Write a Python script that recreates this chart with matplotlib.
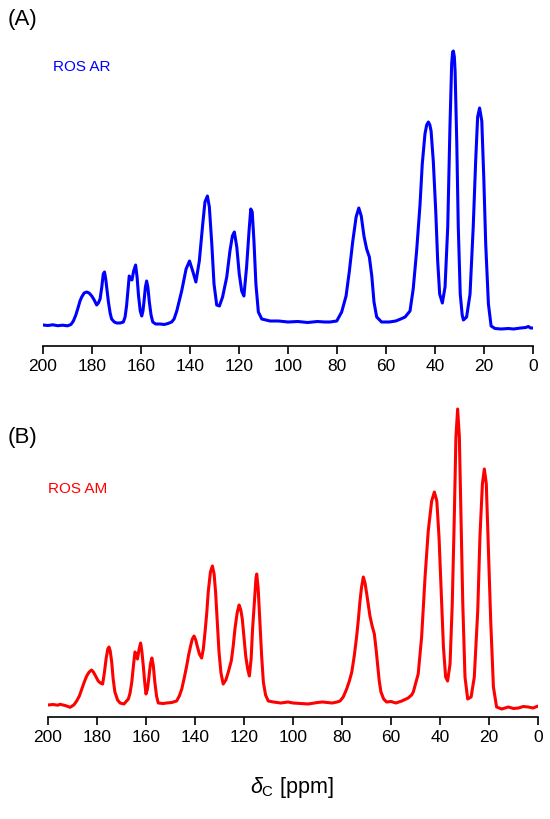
import numpy as np
import matplotlib
matplotlib.use('Agg')
import matplotlib.pyplot as plt

plt.rcParams['font.family'] = ['Liberation Sans', 'DejaVu Sans']
plt.rcParams['mathtext.fontset'] = 'custom'
plt.rcParams['mathtext.rm'] = 'Liberation Sans'
plt.rcParams['mathtext.it'] = 'Liberation Sans:italic'

ros_ar = [
    (200, 4), (198, 3.5), (196, 4.2), (194, 3.3), (192, 3.8), (190, 3.2),
    (188.6, 4.5), (187.6, 8), (186.6, 14), (185.6, 22), (184.9, 28),
    (184.2, 32), (183.2, 36), (182.2, 37), (181.2, 36), (180.1, 33),
    (179.1, 29), (178.1, 24), (177.4, 26), (176.7, 30), (176.0, 42),
    (175.4, 55), (174.9, 57), (174.4, 50), (173.3, 27), (172.6, 16),
    (172.0, 10), (170.9, 7), (169.9, 6), (168.5, 6), (167.2, 7),
    (166.5, 12), (165.9, 23), (165.3, 40), (164.8, 53), (164.3, 51),
    (163.7, 49), (163.0, 58), (162.2, 64), (161.6, 52), (161.0, 33),
    (160.3, 18), (159.7, 13), (159.2, 18), (158.8, 27), (158.2, 42),
    (157.7, 48), (157.2, 42), (156.6, 27), (155.9, 14), (155.2, 7),
    (154, 5), (152.2, 5), (150.5, 4.5), (149, 5.5), (147.5, 7),
    (146.5, 10), (145.4, 18), (143.4, 38), (141.6, 60), (140.2, 68),
    (138.9, 58), (137.6, 47), (136.2, 68), (134.8, 105), (133.9, 127),
    (132.9, 133), (132.1, 122), (131.1, 85), (130.2, 45), (129.1, 24),
    (128.0, 23), (126.7, 32), (125.0, 52), (123.7, 78), (122.7, 93),
    (121.9, 97), (120.9, 82), (119.9, 55), (118.9, 38), (118.0, 33),
    (116.9, 62), (115.9, 98), (115.2, 120), (114.6, 117), (113.9, 88),
    (113.1, 45), (112.1, 17), (110.7, 10), (107.3, 8), (103.9, 8),
    (100, 7), (96, 7.5), (92, 6.5), (88, 7.5), (85, 7), (82.9, 7),
    (80.1, 8), (78.1, 17), (76.3, 33), (75.0, 57), (73.6, 87),
    (72.2, 112), (71.1, 121), (70.1, 113), (69.0, 93), (67.9, 80),
    (66.8, 72), (65.8, 53), (64.9, 27), (63.8, 12), (61.8, 7),
    (58.7, 7), (56, 8), (54, 10), (52.2, 12), (50.2, 18), (48.9, 40),
    (47.5, 78), (46.1, 125), (45.2, 165), (44.1, 195), (43.4, 204),
    (42.7, 207), (42.1, 204), (41.6, 198), (40.7, 168), (39.7, 118),
    (38.9, 68), (38.1, 35), (37.0, 26), (35.9, 42), (34.8, 102),
    (33.9, 202), (33.2, 265), (32.8, 277), (32.5, 278), (32.1, 272),
    (31.8, 258), (31.1, 185), (30.5, 102), (29.7, 35), (28.9, 14),
    (28.4, 9), (27.1, 12), (25.7, 35), (24.4, 102), (23.4, 168),
    (22.6, 212), (21.8, 221), (20.9, 208), (20.1, 152), (19.3, 85),
    (18.2, 25), (17.1, 3), (15.5, 0.5), (13, 0), (10, 0.5), (8, 0),
    (5, 1), (3, 1.5), (1.9, 2.5), (1, 1), (0, 1),
]

ros_am = [
    (200, 6), (198, 6.5), (196, 5.8), (195.1, 6.7), (193, 5.5), (191, 3.7),
    (189.5, 6), (188.3, 10), (187.2, 15), (186.2, 22), (185.2, 29),
    (184.2, 35), (183.2, 39), (182.2, 41), (181.5, 39), (180.8, 36),
    (179.5, 30), (178.6, 28), (177.7, 27), (177.0, 38), (176.3, 52),
    (175.6, 62), (175.1, 64), (174.6, 60), (174.0, 49), (173.4, 32),
    (172.7, 19), (171.6, 11), (170.6, 8), (169, 7), (167.2, 12),
    (166.5, 18), (165.8, 29), (165.1, 46), (164.5, 59), (164.0, 57),
    (163.5, 52), (162.8, 62), (162.2, 68), (161.7, 60), (161.1, 45),
    (160.5, 28), (160, 17), (159.4, 22), (158.9, 32), (158.2, 47),
    (157.6, 53), (157.0, 45), (156.4, 29), (155.7, 15), (155.0, 8),
    (153, 7.5), (151.6, 8), (149.5, 8.5), (147.5, 10), (146.4, 15),
    (145.4, 22), (144.4, 33), (143.4, 45), (142.6, 56), (141.8, 65),
    (141.1, 72), (140.4, 75), (139.7, 71), (139.1, 65), (138.2, 57),
    (137.3, 53), (136.6, 62), (135.9, 79), (135.2, 98), (134.6, 119),
    (133.7, 139), (132.9, 145), (132.2, 137), (131.6, 119), (130.9, 88),
    (130.2, 59), (129.4, 38), (128.5, 27), (127.4, 31), (126.4, 39),
    (125.2, 50), (124.4, 65), (123.7, 82), (122.8, 98), (122.0, 106),
    (121.3, 101), (120.7, 92), (120.0, 74), (119.3, 55), (118.5, 42),
    (117.8, 35), (117.1, 52), (116.5, 82), (115.7, 112), (115.1, 133),
    (114.8, 137), (114.2, 122), (113.5, 89), (112.8, 55), (112.1, 29),
    (111.2, 16), (110.1, 10), (108.0, 9), (105, 8), (102, 9), (100, 8),
    (97, 7.5), (93.8, 7), (90, 8.5), (88, 9), (84, 8), (82, 9),
    (80.8, 10), (79.5, 14), (78.1, 22), (77, 30), (76.0, 39), (75, 55),
    (74.0, 75), (73.3, 92), (72.7, 109), (72, 124), (71.3, 134),
    (70.6, 128), (69.9, 117), (69.2, 105), (68.6, 95), (67.7, 85),
    (66.8, 77), (66.1, 62), (65.4, 45), (64.8, 30), (64.1, 19), (63, 12),
    (61.8, 9), (60, 9.5), (58, 8), (55.6, 10), (53, 13), (51.6, 16),
    (50.9, 19), (48.9, 37), (47.5, 74), (46.1, 134), (44.8, 180),
    (43.4, 210), (42.3, 219), (41.3, 210), (40.4, 174), (39.6, 124),
    (38.6, 64), (37.7, 34), (36.9, 30), (35.9, 47), (35.0, 107),
    (34.2, 190), (33.5, 274), (32.8, 302), (32.1, 274), (31.4, 190),
    (30.7, 107), (29.8, 34), (28.7, 12), (27.3, 14), (26.0, 34),
    (24.6, 100), (23.7, 174), (22.7, 227), (21.9, 242), (21.1, 227),
    (20.3, 167), (19.3, 90), (18.2, 24), (16.9, 4), (14.8, 2), (12.1, 4),
    (10, 2.5), (8, 3), (6, 4.5), (4.0, 4), (2, 3), (0, 5),
]

ppm_ar, int_ar = np.array(ros_ar).T
ppm_am, int_am = np.array(ros_am).T
xticks = [200, 180, 160, 140, 120, 100, 80, 60, 40, 20, 0]

# ── Figura ────────────────────────────────────────────────────────────────
fig = plt.figure(figsize=(5.5, 8.2), dpi=100)
W, H = 550, 820

def add_panel(left, bottom_px, top_px, ymin):
    ax = fig.add_axes([left / W, 1 - bottom_px / H, 490 / W, (bottom_px - top_px) / H])
    ax.set_xlim(200, 0)
    ax.set_ylim(ymin, ymin + (bottom_px - top_px))
    for s in ['top', 'right', 'left']:
        ax.spines[s].set_visible(False)
    ax.spines['bottom'].set_linewidth(1.2)
    ax.set_yticks([])
    ax.set_xticks(xticks)
    ax.tick_params(axis='x', direction='out', length=6, width=1.2,
                   labelsize=12.5, pad=3)
    return ax

ax1 = add_panel(43, 347, 40, -17)
ax1.plot(ppm_ar, int_ar, color='#0000ff', linewidth=2.2,
         solid_joinstyle='round', solid_capstyle='round')

ax2 = add_panel(48, 718, 400, -6)
ax2.plot(ppm_am, int_am, color='#ff0000', linewidth=2.2,
         solid_joinstyle='round', solid_capstyle='round')

fig.text(8 / W, 1 - 20 / H, '(A)', fontsize=16, va='center', ha='left')
fig.text(53 / W, 1 - 67 / H, 'ROS AR', fontsize=11, color='#0000ff', va='center', ha='left')
fig.text(8 / W, 1 - 438 / H, '(B)', fontsize=16, va='center', ha='left')
fig.text(48 / W, 1 - 489 / H, 'ROS AM', fontsize=11, color='#ff0000', va='center', ha='left')
fig.text(292 / W, 1 - 788 / H, r'$\delta_{\rm C}$ [ppm]', fontsize=15.5, va='center', ha='center')

fig.savefig('out.png', dpi=100)
